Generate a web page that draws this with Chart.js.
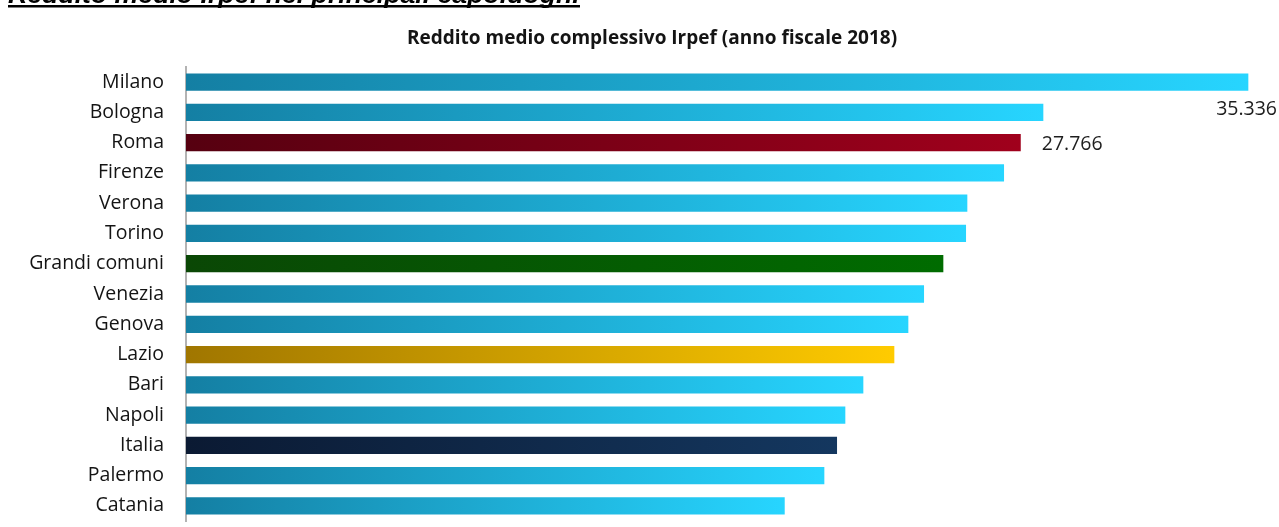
<!DOCTYPE html>
<html>
<head>
<meta charset="utf-8">
<script src="https://cdn.jsdelivr.net/npm/chart.js@4"></script>
<style>
  html, body { margin: 0; padding: 0; background: #fff; }
  canvas { display: block; }
</style>
</head>
<body>
<canvas id="chartRedditi" width="1279" height="527"></canvas>
<script>
// DATI
const comuni = ['Milano', 'Bologna', 'Roma', 'Firenze', 'Verona', 'Torino', 'Grandi comuni',
  'Venezia', 'Genova', 'Lazio', 'Bari', 'Napoli', 'Italia', 'Palermo', 'Catania'];
const reddito = [35336, 28517, 27766, 27210, 25989, 25946, 25191,
  24549, 24027, 23561, 22530, 21931, 21655, 21233, 19915];
const etichette = { 'Milano': '35.336', 'Roma': '27.766' };

const titolo = 'Reddito medio complessivo Irpef (anno fiscale 2018)';
const intestazione = 'Reddito medio Irpef nei principali capoluoghi';

// COLORI (sfumatura da sinistra a destra)
const blu = ['#147fa3', '#27d5ff'];
const evidenza = {
  'Roma': ['#560010', '#a0001c'],
  'Grandi comuni': ['#0a4705', '#006c00'],
  'Lazio': ['#a07600', '#ffcb00'],
  'Italia': ['#0b1a33', '#14375f']
};

const FONT = "'Open Sans', sans-serif";

function gradiente (c) {
  const { chart, dataIndex } = c;
  const { ctx, chartArea, scales } = chart;
  const stops = evidenza[comuni[dataIndex]] || blu;
  if (!chartArea) return stops[1];
  const x0 = scales.x.getPixelForValue(0);
  const x1 = scales.x.getPixelForValue(reddito[dataIndex]);
  const g = ctx.createLinearGradient(x0, 0, x1, 0);
  g.addColorStop(0, stops[0]);
  g.addColorStop(1, stops[1]);
  return g;
}

//TESTI E ETICHETTE
const testiPlugin = {
  id: 'testi',
  afterDraw (chart) {
    const { ctx } = chart;
    ctx.save();

    // intestazione tagliata in alto
    ctx.fillStyle = '#000';
    ctx.font = "italic bold 21px 'Liberation Sans', Arial, sans-serif";
    const w = ctx.measureText(intestazione).width;
    const size = 21 * 572 / w;
    ctx.font = `italic bold ${size}px 'Liberation Sans', Arial, sans-serif`;
    ctx.textAlign = 'left';
    ctx.textBaseline = 'alphabetic';
    ctx.fillText(intestazione, 8, 3);
    ctx.fillRect(8, 5, 572, 2.5);

    // titolo
    ctx.font = `bold 19px ${FONT}`;
    ctx.textAlign = 'center';
    ctx.textBaseline = 'middle';
    ctx.fillStyle = '#141414';
    ctx.fillText(titolo, 652, 39);

    // valori
    const meta = chart.getDatasetMeta(0);
    ctx.font = `19.5px ${FONT}`;
    ctx.fillStyle = '#1e1e1e';
    comuni.forEach((nome, i) => {
      const testo = etichette[nome];
      if (!testo) return;
      const bar = meta.data[i];
      if (bar.x + 21 + ctx.measureText(testo).width > chart.width) {
        ctx.textAlign = 'right';
        ctx.fillText(testo, chart.width - 2, bar.y + 27);
      } else {
        ctx.textAlign = 'left';
        ctx.fillText(testo, bar.x + 21, bar.y + 2);
      }
    });
    ctx.restore();
  }
};

const chartRedditi = new Chart(document.getElementById('chartRedditi'), {
  type: 'bar',
  data: {
    labels: comuni,
    datasets: [{
      label: titolo,
      data: reddito,
      backgroundColor: gradiente,
      borderWidth: 0,
      barPercentage: 0.57,
      categoryPercentage: 1
    }]
  },
  options: {
    indexAxis: 'y',
    responsive: false,
    animation: false,
    layout: {
      padding: { top: 67, bottom: 6, left: 0, right: 10.7 }
    },
    plugins: {
      legend: { display: false },
      title: { display: false },
      tooltip: { enabled: false }
    },
    scales: {
      x: {
        display: false,
        min: 0,
        max: 36000
      },
      y: {
        grid: { display: false, drawTicks: false },
        border: { display: true, color: '#b3b3b3', width: 2 },
        ticks: {
          padding: 22,
          color: '#141414',
          font: { family: FONT, size: 19.5 }
        },
        afterFit (scale) {
          scale.width = 186;
          scale.paddingTop = 0;
          scale.paddingBottom = 0;
        }
      }
    }
  },
  plugins: [testiPlugin]
});
</script>
</body>
</html>
